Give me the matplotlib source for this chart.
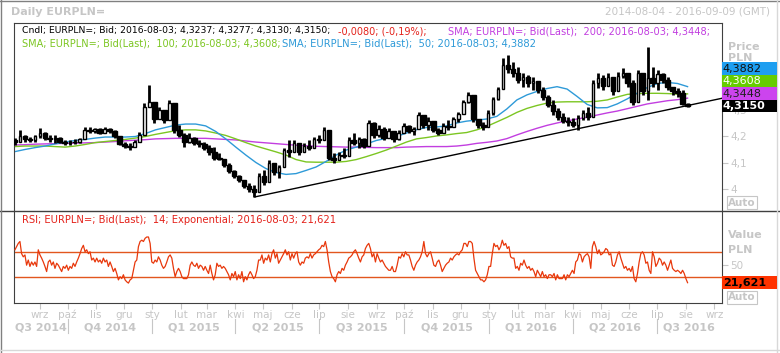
import matplotlib
matplotlib.use("Agg")
import matplotlib.pyplot as plt
import matplotlib.dates as mdates
import matplotlib.transforms as mtransforms
from matplotlib.lines import Line2D
from matplotlib.patches import Rectangle
import pandas as pd

plt.rcParams['font.family'] = ['DejaVu Sans']

# ---- data ----
first_day, last_day = "2014-08-05", "2016-08-03"
view_start, view_end = "2014-08-04", "2016-09-09"

first_open = 4.185
candle_high = [
    4.194, 4.225, 4.206, 4.198, 4.206, 4.232, 4.217, 4.206, 4.206, 4.198,
    4.187, 4.187, 4.191, 4.194, 4.236, 4.236, 4.232, 4.232, 4.236, 4.232,
    4.225, 4.194, 4.179, 4.175, 4.187, 4.217, 4.326, 4.394, 4.311, 4.311,
    4.300, 4.338, 4.300, 4.243, 4.213, 4.213, 4.198, 4.187, 4.179, 4.168,
    4.160, 4.138, 4.111, 4.100, 4.074, 4.055, 4.036, 4.025, 4.017, 4.062,
    4.074, 4.111, 4.100, 4.092, 4.157, 4.187, 4.187, 4.175, 4.175, 4.187,
    4.198, 4.206, 4.236, 4.187, 4.138, 4.142, 4.157, 4.198, 4.213, 4.198,
    4.194, 4.262, 4.255, 4.243, 4.236, 4.232, 4.206, 4.225, 4.251, 4.243,
    4.236, 4.292, 4.281, 4.274, 4.255, 4.232, 4.251, 4.262, 4.274, 4.292,
    4.338, 4.368, 4.319, 4.262, 4.255, 4.300, 4.349, 4.387, 4.496, 4.508,
    4.481, 4.462, 4.440, 4.432, 4.425, 4.402, 4.387, 4.357, 4.338, 4.308,
    4.289, 4.274, 4.270, 4.281, 4.300, 4.311, 4.413, 4.440, 4.432, 4.440,
    4.421, 4.443, 4.458, 4.425, 4.413, 4.451, 4.425, 4.538, 4.462, 4.451,
    4.440, 4.425, 4.387, 4.383, 4.375, 4.3277]
candle_low = [
    4.168, 4.187, 4.179, 4.179, 4.179, 4.194, 4.187, 4.179, 4.175, 4.175,
    4.168, 4.168, 4.172, 4.175, 4.206, 4.213, 4.213, 4.209, 4.213, 4.213,
    4.194, 4.168, 4.157, 4.149, 4.160, 4.179, 4.262, 4.311, 4.251, 4.274,
    4.251, 4.300, 4.213, 4.198, 4.160, 4.175, 4.168, 4.160, 4.149, 4.130,
    4.111, 4.111, 4.085, 4.062, 4.043, 4.028, 4.006, 3.991, 3.972, 3.998,
    4.017, 4.055, 4.055, 4.043, 4.104, 4.123, 4.149, 4.130, 4.149, 4.149,
    4.168, 4.175, 4.187, 4.111, 4.100, 4.111, 4.119, 4.149, 4.168, 4.157,
    4.157, 4.206, 4.194, 4.198, 4.187, 4.194, 4.179, 4.187, 4.213, 4.213,
    4.206, 4.243, 4.232, 4.225, 4.217, 4.206, 4.217, 4.225, 4.243, 4.255,
    4.300, 4.326, 4.255, 4.232, 4.225, 4.243, 4.281, 4.338, 4.425, 4.440,
    4.425, 4.402, 4.387, 4.387, 4.375, 4.364, 4.338, 4.311, 4.281, 4.262,
    4.251, 4.240, 4.236, 4.225, 4.262, 4.262, 4.364, 4.383, 4.375, 4.402,
    4.357, 4.406, 4.421, 4.387, 4.319, 4.387, 4.357, 4.338, 4.387, 4.375,
    4.402, 4.375, 4.357, 4.349, 4.320, 4.3130]
candle_close = [
    4.180, 4.200, 4.190, 4.185, 4.200, 4.215, 4.195, 4.190, 4.195, 4.180,
    4.175, 4.180, 4.178, 4.190, 4.225, 4.220, 4.228, 4.215, 4.230, 4.222,
    4.200, 4.172, 4.165, 4.160, 4.180, 4.205, 4.310, 4.330, 4.265, 4.300,
    4.262, 4.325, 4.225, 4.205, 4.180, 4.195, 4.175, 4.170, 4.155, 4.140,
    4.120, 4.115, 4.092, 4.070, 4.050, 4.035, 4.012, 4.000, 3.990, 4.050,
    4.030, 4.100, 4.065, 4.085, 4.150, 4.140, 4.175, 4.140, 4.165, 4.155,
    4.190, 4.185, 4.225, 4.120, 4.110, 4.130, 4.125, 4.185, 4.175, 4.190,
    4.165, 4.250, 4.205, 4.230, 4.195, 4.220, 4.190, 4.215, 4.240, 4.220,
    4.230, 4.280, 4.245, 4.260, 4.225, 4.215, 4.240, 4.235, 4.265, 4.285,
    4.330, 4.355, 4.265, 4.245, 4.235, 4.290, 4.340, 4.380, 4.470, 4.455,
    4.440, 4.415, 4.425, 4.400, 4.410, 4.375, 4.350, 4.320, 4.295, 4.275,
    4.260, 4.255, 4.245, 4.270, 4.290, 4.275, 4.400, 4.420, 4.390, 4.425,
    4.370, 4.430, 4.440, 4.400, 4.330, 4.440, 4.370, 4.420, 4.400, 4.435,
    4.415, 4.385, 4.370, 4.365, 4.3237, 4.3150]

sma50 = [
    4.143, 4.151, 4.158, 4.164, 4.172, 4.179, 4.185, 4.189, 4.194, 4.198,
    4.198, 4.198, 4.200, 4.211, 4.225, 4.234, 4.243, 4.247, 4.247, 4.240,
    4.219, 4.191, 4.160, 4.130, 4.102, 4.079, 4.064, 4.057, 4.060, 4.072,
    4.085, 4.106, 4.130, 4.149, 4.160, 4.172, 4.185, 4.193, 4.200, 4.213,
    4.226, 4.234, 4.236, 4.240, 4.251, 4.258, 4.262, 4.266, 4.276, 4.304,
    4.338, 4.357, 4.370, 4.381, 4.388, 4.379, 4.351, 4.321, 4.308, 4.309,
    4.323, 4.342, 4.364, 4.385, 4.400, 4.404, 4.400, 4.3882]
sma100 = [
    4.162, 4.164, 4.164, 4.164, 4.162, 4.160, 4.164, 4.170, 4.177, 4.181,
    4.185, 4.189, 4.194, 4.200, 4.208, 4.215, 4.222, 4.225, 4.225, 4.221,
    4.213, 4.204, 4.191, 4.177, 4.164, 4.153, 4.142, 4.130, 4.113, 4.104,
    4.103, 4.103, 4.103, 4.106, 4.113, 4.124, 4.136, 4.149, 4.164, 4.179,
    4.191, 4.196, 4.202, 4.206, 4.211, 4.215, 4.225, 4.238, 4.255, 4.272,
    4.291, 4.306, 4.317, 4.326, 4.330, 4.331, 4.331, 4.331, 4.333, 4.338,
    4.349, 4.359, 4.362, 4.363, 4.363, 4.362, 4.360, 4.3608]
sma200 = [
    4.168, 4.169, 4.171, 4.172, 4.173, 4.174, 4.175, 4.176, 4.177, 4.179,
    4.181, 4.184, 4.186, 4.188, 4.191, 4.192, 4.193, 4.193, 4.193, 4.193,
    4.191, 4.189, 4.187, 4.183, 4.179, 4.176, 4.173, 4.170, 4.167, 4.165,
    4.163, 4.162, 4.161, 4.160, 4.160, 4.159, 4.158, 4.158, 4.158, 4.160,
    4.161, 4.162, 4.162, 4.162, 4.164, 4.168, 4.174, 4.178, 4.183, 4.192,
    4.206, 4.219, 4.231, 4.242, 4.251, 4.259, 4.266, 4.273, 4.281, 4.289,
    4.296, 4.305, 4.314, 4.323, 4.329, 4.335, 4.339, 4.3448]

rsi14 = [
    73, 78, 83, 86, 67, 62, 65, 49, 57, 47, 54, 49, 54, 47, 73, 65, 60, 54, 47, 39,
    54, 57, 49, 54, 44, 52, 49, 44, 39, 47, 44, 49, 41, 47, 44, 52, 47, 54, 60, 67,
    75, 80, 70, 73, 67, 70, 57, 60, 54, 60, 54, 57, 52, 60, 54, 57, 47, 54, 47, 39,
    44, 36, 26, 31, 28, 34, 26, 23, 21, 26, 28, 41, 54, 57, 78, 86, 88, 86, 91, 93,
    93, 83, 54, 52, 57, 54, 62, 57, 49, 44, 47, 54, 62, 65, 60, 44, 31, 39, 44, 39,
    31, 28, 28, 28, 34, 49, 54, 49, 47, 52, 44, 49, 47, 41, 47, 41, 36, 49, 36, 26,
    34, 52, 47, 49, 44, 47, 44, 39, 34, 26, 36, 31, 39, 26, 34, 28, 39, 23, 31, 26,
    34, 39, 34, 28, 31, 41, 57, 57, 65, 52, 60, 57, 65, 54, 67, 73, 60, 67, 52, 57,
    62, 67, 73, 65, 70, 57, 67, 60, 67, 70, 54, 49, 54, 52, 60, 62, 60, 67, 60, 65,
    67, 70, 73, 75, 80, 78, 86, 73, 54, 39, 31, 28, 23, 34, 39, 36, 44, 41, 49, 54,
    60, 62, 65, 70, 73, 67, 60, 54, 62, 65, 75, 80, 83, 75, 62, 67, 54, 67, 60, 54,
    57, 52, 47, 44, 41,
    41, 47, 39, 39, 49, 62, 60, 67, 62, 70, 65, 65, 57, 47, 41, 49, 54, 57, 62, 70,
    86, 67, 62, 67, 70, 60, 49, 47, 54, 57, 49, 39, 44, 49, 52, 54, 60, 57, 62, 65,
    67, 65, 70, 73, 83, 83, 78, 86, 86, 83, 60, 41, 36, 31, 26, 26, 23, 26, 34, 47,
    47, 67, 83, 78, 80, 73, 78, 88, 80, 83, 75, 78, 62, 60, 60, 44, 47, 41, 52, 49,
    57, 49, 44, 47, 41, 44, 39, 31, 41, 36, 31, 39, 31, 34, 28, 34, 34, 31, 36, 26,
    34, 28, 28, 28, 34, 26, 34, 31, 36, 41, 36, 54, 57, 67, 65, 54, 62, 65, 67, 62,
    44, 78, 86, 78, 67, 73, 65, 67, 70, 75, 73, 65, 67, 49, 47, 54, 65, 70, 60, 52,
    44, 47, 41, 44, 39, 47, 28, 23, 36, 54, 67, 70, 65, 52, 54, 41, 36, 70, 62, 47,
    52, 60, 57, 49, 54, 49, 41, 49, 57, 44, 41, 39, 41, 39, 36, 41, 36, 28, 21.621]

trend_dates = ["2015-04-22", "2016-09-09"]
trend_values = [3.972, 4.344]

month_names = ["sty", "lut", "mar", "kwi", "maj", "cze",
               "lip", "sie", "wrz", "pa\u017a", "lis", "gru"]

# ---- colours ----
GRAY = "#c6c6c6"
FRAME = "#404040"
C_RED = "#e4221b"
C_SMA200 = "#c23ee0"
C_SMA100 = "#7cc622"
C_SMA50 = "#2e9ad8"
C_RSI = "#e8380c"
C_BAND = "#e2561e"

W, H = 780, 353
fig = plt.figure(figsize=(W / 100, H / 100), dpi=100)


def fx(px):
    return px / W


def fy(py):
    return 1 - py / H


L, R = 14, 721.7
ax = fig.add_axes([fx(L), fy(210.7), fx(R) - fx(L), fy(22.7) - fy(210.7)])
ax2 = fig.add_axes([fx(L), fy(303.3), fx(R) - fx(L), fy(210.7) - fy(303.3)], sharex=ax)

# ---- candles ----
cd = mdates.date2num(pd.date_range(first_day, last_day, periods=len(candle_close)).to_pydatetime())
opens = [first_open] + candle_close[:-1]
ax.vlines(cd, candle_low, candle_high, color="k", lw=2.0, zorder=3)
for x, o, c in zip(cd, opens, candle_close):
    up = c >= o
    ax.bar(x, abs(c - o), bottom=min(o, c), width=2.6 if up else 5.0,
           color="white" if up else "black", edgecolor="k", lw=1.0, zorder=4)

# ---- moving averages ----
sd = mdates.date2num(pd.date_range(first_day, last_day, periods=len(sma50)).to_pydatetime())
ax.plot(sd, sma200, color=C_SMA200, lw=1.0, zorder=2)
ax.plot(sd, sma100, color=C_SMA100, lw=1.0, zorder=2)
ax.plot(sd, sma50, color=C_SMA50, lw=1.0, zorder=2)

# trend line
td = mdates.date2num(pd.to_datetime(trend_dates).to_pydatetime())
ax.plot(td, trend_values, color="k", lw=1.0, zorder=5)

x0 = mdates.date2num(pd.Timestamp(view_start))
x1 = mdates.date2num(pd.Timestamp(view_end))
ax.set_xlim(x0, x1)
ax.set_ylim(3.92, 4.6294)

ax.yaxis.tick_right()
ax.set_yticks([4.0, 4.1, 4.2, 4.3])
ax.set_yticklabels(["4", "4,1", "4,2", "4,3"])
ax.tick_params(axis="y", length=4, width=0.8, color=GRAY, labelcolor=GRAY,
               labelsize=7.5, pad=2)
ax.tick_params(axis="x", bottom=False, labelbottom=False)
for s in ["left", "top", "right"]:
    ax.spines[s].set_color(FRAME)
ax.spines["bottom"].set_visible(False)

# ---- RSI ----
rd = mdates.date2num(pd.date_range(first_day, last_day, periods=len(rsi14)).to_pydatetime())
ax2.plot(rd, rsi14, color=C_RSI, lw=0.9, zorder=3)
ax2.axhline(70, color=C_BAND, lw=1.0, zorder=2)
ax2.axhline(30, color=C_BAND, lw=1.0, zorder=2)
ax2.set_ylim(-10.6, 134.1)
ax2.yaxis.tick_right()
ax2.set_yticks([50])
ax2.set_yticklabels(["50"])
ax2.tick_params(axis="y", length=4, width=0.8, color=GRAY, labelcolor=GRAY,
                labelsize=7.5, pad=2)
for s in ["left", "bottom", "right"]:
    ax2.spines[s].set_color(FRAME)
ax2.spines["top"].set_visible(False)

month_starts = pd.date_range("2014-09-01", "2016-09-01", freq="MS")
ax2.set_xticks(mdates.date2num(month_starts.to_pydatetime()))
ax2.tick_params(axis="x", length=4, width=0.8, color=GRAY, labelbottom=False)
ax2.set_xlim(x0, x1)

trans = mtransforms.blended_transform_factory(ax2.transData, fig.transFigure)
for m in month_starts:
    ax2.text(mdates.date2num(m), fy(315), month_names[m.month - 1], transform=trans,
             ha="center", va="center", fontsize=7.5, color=GRAY)

quarters = pd.date_range("2014-07-01", "2016-07-01", freq="QS")
for q in quarters:
    qs = mdates.date2num(q)
    qe = mdates.date2num(q + pd.offsets.QuarterBegin(startingMonth=1))
    a, b = max(qs, x0), min(qe, x1)
    ax2.text((a + b) / 2, fy(327), f"Q{(q.month - 1) // 3 + 1} {q.year}", transform=trans,
             ha="center", va="center", fontsize=8, fontweight="bold", color=GRAY)
    if qs > x0:
        ax2.plot([qs, qs], [fy(319), fy(333)], transform=trans, color=GRAY,
                 lw=0.8, clip_on=False)

# ---- panel separator and outer frame ----
fig.add_artist(Line2D([0, 1], [fy(210.7)] * 2, color=FRAME, lw=1.0))
fig.add_artist(Line2D([fx(1), fx(1)], [0, 1], color="#808080", lw=1.0))
fig.add_artist(Line2D([0, 1], [fy(1), fy(1)], color="#808080", lw=1.0))
fig.add_artist(Line2D([fx(777), fx(777)], [0, 1], color="#d8d8d8", lw=1.0))
fig.add_artist(Line2D([0, 1], [fy(350), fy(350)], color="#d8d8d8", lw=1.0))

# ---- header texts ----
fig.text(fx(11), fy(12), "Daily EURPLN=", fontsize=8, fontweight="bold", color=GRAY,
         va="center")
fig.text(fx(770), fy(12), "2014-08-04 - 2016-09-09 (GMT)", fontsize=7.5, color=GRAY,
         va="center", ha="right")

fig.text(fx(22), fy(31), "Cndl; EURPLN=; Bid; 2016-08-03; 4,3237; 4,3277; 4,3130; 4,3150;",
         fontsize=6.7, color="k", va="center")
fig.text(fx(338), fy(31), "-0,0080; (-0,19%);", fontsize=7.0, color=C_RED, va="center")
fig.text(fx(448), fy(31), "SMA; EURPLN=; Bid(Last);  200; 2016-08-03; 4,3448;",
         fontsize=7.1, color=C_SMA200, va="center")
fig.text(fx(22), fy(44), "SMA; EURPLN=; Bid(Last);  100; 2016-08-03; 4,3608;",
         fontsize=7.0, color=C_SMA100, va="center")
fig.text(fx(282), fy(44), "SMA; EURPLN=; Bid(Last);  50; 2016-08-03; 4,3882",
         fontsize=7.2, color=C_SMA50, va="center")
fig.text(fx(22), fy(220), "RSI; EURPLN=; Bid(Last);  14; Exponential; 2016-08-03; 21,621",
         fontsize=7.2, color=C_RED, va="center")

# ---- right-hand scale captions ----
fig.text(fx(728), fy(46.5), "Price", fontsize=8, fontweight="bold", color=GRAY,
         va="center", zorder=2)
fig.text(fx(728), fy(58), "PLN", fontsize=8, fontweight="bold", color=GRAY,
         va="center", zorder=2)
fig.text(fx(728), fy(235), "Value", fontsize=8, fontweight="bold", color=GRAY,
         va="center", zorder=2)
fig.text(fx(728), fy(250), "PLN", fontsize=8, fontweight="bold", color=GRAY,
         va="center", zorder=2)
for yy in (202.5, 297.5):
    fig.text(fx(742), fy(yy), "Auto", fontsize=7.5, fontweight="bold", color=GRAY,
             va="center", ha="center",
             bbox=dict(boxstyle="square,pad=0.1", fc="white", ec=GRAY, lw=0.8))

# ---- last-value labels ----
fig.canvas.draw()
labels = [
    (candle_close[-1], "black", "white"),
    (sma200[-1], "#cc44ee", "#202020"),
    (sma100[-1], "#66cc00", "white"),
    (sma50[-1], "#1e9ef0", "#101010"),
]
box_h = 12.5
prev = None
for val, face, txt in labels:
    ypx = H - ax.transData.transform((x0, val))[1]
    if prev is not None:
        ypx = min(ypx, prev - box_h)
    prev = ypx
    fig.add_artist(Rectangle((fx(R), fy(ypx + box_h / 2)), fx(55), box_h / H,
                             transform=fig.transFigure, fc=face, ec="none", zorder=5))
    fig.text(fx(R + 1), fy(ypx), f"{val:.4f}".replace(".", ","), fontsize=8,
             fontweight="bold" if face == "black" else "normal", color=txt,
             va="center", zorder=6)

rsi_px = H - ax2.transData.transform((x0, rsi14[-1]))[1]
fig.add_artist(Rectangle((fx(R), fy(rsi_px + box_h / 2)), fx(55), box_h / H,
                         transform=fig.transFigure, fc="#ff3300", ec="none", zorder=5))
fig.text(fx(R + 1), fy(rsi_px), f"{rsi14[-1]:.3f}".replace(".", ","), fontsize=8,
         fontweight="bold", color="black", va="center", zorder=6)

fig.savefig("out.png", dpi=100)
